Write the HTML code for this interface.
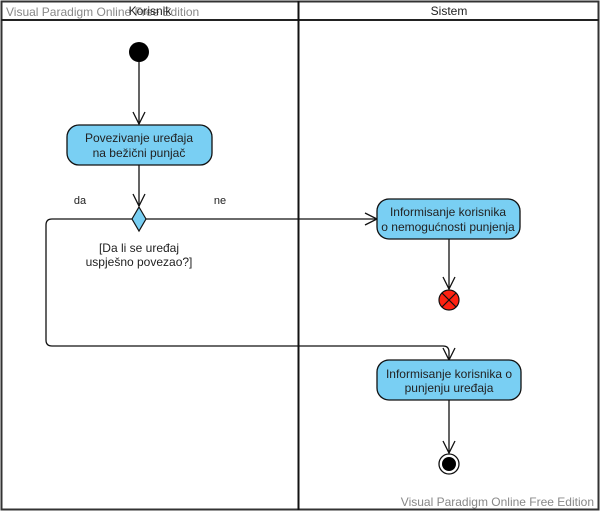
<!DOCTYPE html>
<html><head><style>
html,body{margin:0;padding:0;background:#fff;}
svg{display:block;}
text{font-family:"Liberation Sans",sans-serif;}
</style></head><body>
<svg width="600" height="511" viewBox="0 0 600 511" xmlns="http://www.w3.org/2000/svg">
<rect x="0" y="0" width="600" height="511" fill="#fff"/>
<rect x="1.5" y="1.5" width="597" height="508" fill="none" stroke="#333" stroke-width="2"/>
<line x1="1" y1="20" x2="599" y2="20" stroke="#222" stroke-width="2"/>
<line x1="298.5" y1="1" x2="298.5" y2="510" stroke="#111" stroke-width="2"/>
<text x="6" y="16" font-size="12" fill="#888">Visual Paradigm Online Free Edition</text>
<text x="150" y="15" font-size="12" fill="#222" text-anchor="middle">Korisnik</text>
<text x="449" y="15" font-size="12" fill="#222" text-anchor="middle">Sistem</text>
<text x="594" y="506" font-size="12" fill="#888" text-anchor="end">Visual Paradigm Online Free Edition</text>

<g stroke="#111" stroke-width="1.3" fill="none">
<line x1="139" y1="62" x2="139" y2="124"/>
<polyline points="133,112 139,124 145,112"/>
<line x1="139" y1="165" x2="139" y2="206"/>
<polyline points="133,194 139,206 145,194"/>
<line x1="146" y1="219" x2="377" y2="219"/>
<polyline points="365,213 377,219 365,225"/>
<path d="M132,219 H52 Q46,219 46,225 V340 Q46,346 52,346 H443 Q449,346 449,352 V360"/>
<polyline points="443,348 449,360 455,348"/>
<line x1="449" y1="239" x2="449" y2="289"/>
<polyline points="443,277 449,289 455,277"/>
<line x1="449" y1="400" x2="449" y2="453"/>
<polyline points="443,441 449,453 455,441"/>
</g>

<circle cx="139" cy="52" r="10" fill="#000"/>
<rect x="67" y="125" width="145" height="40" rx="12" fill="#79cff3" stroke="#111" stroke-width="1.3"/>
<text x="139" y="142" font-size="12" fill="#222" text-anchor="middle">Povezivanje uređaja</text>
<text x="139" y="157" font-size="12" fill="#222" text-anchor="middle">na bežični punjač</text>

<polygon points="139,207 146,219 139,231 132,219" fill="#79cff3" stroke="#111" stroke-width="1.2"/>
<text x="80" y="204" font-size="11" fill="#222" text-anchor="middle">da</text>
<text x="220" y="204" font-size="11" fill="#222" text-anchor="middle">ne</text>
<text x="139" y="252" font-size="12" fill="#222" text-anchor="middle">[Da li se uređaj</text>
<text x="139" y="266" font-size="12" fill="#222" text-anchor="middle">uspješno povezao?]</text>

<rect x="377" y="199" width="143" height="40" rx="12" fill="#79cff3" stroke="#111" stroke-width="1.3"/>
<text x="448" y="216" font-size="12" fill="#222" text-anchor="middle">Informisanje korisnika</text>
<text x="448" y="231" font-size="12" fill="#222" text-anchor="middle">o nemogućnosti punjenja</text>

<circle cx="449" cy="300" r="10" fill="#f21" stroke="#111" stroke-width="1.2"/>
<line x1="442" y1="293" x2="456" y2="307" stroke="#111" stroke-width="1.2"/>
<line x1="456" y1="293" x2="442" y2="307" stroke="#111" stroke-width="1.2"/>

<rect x="377" y="360" width="144" height="40" rx="12" fill="#79cff3" stroke="#111" stroke-width="1.3"/>
<text x="449" y="378" font-size="12" fill="#222" text-anchor="middle">Informisanje korisnika o</text>
<text x="449" y="392" font-size="12" fill="#222" text-anchor="middle">punjenju uređaja</text>

<circle cx="449" cy="464" r="10" fill="#fff" stroke="#111" stroke-width="1.3"/>
<circle cx="449" cy="464" r="7" fill="#000"/>
</svg>
</body></html>
